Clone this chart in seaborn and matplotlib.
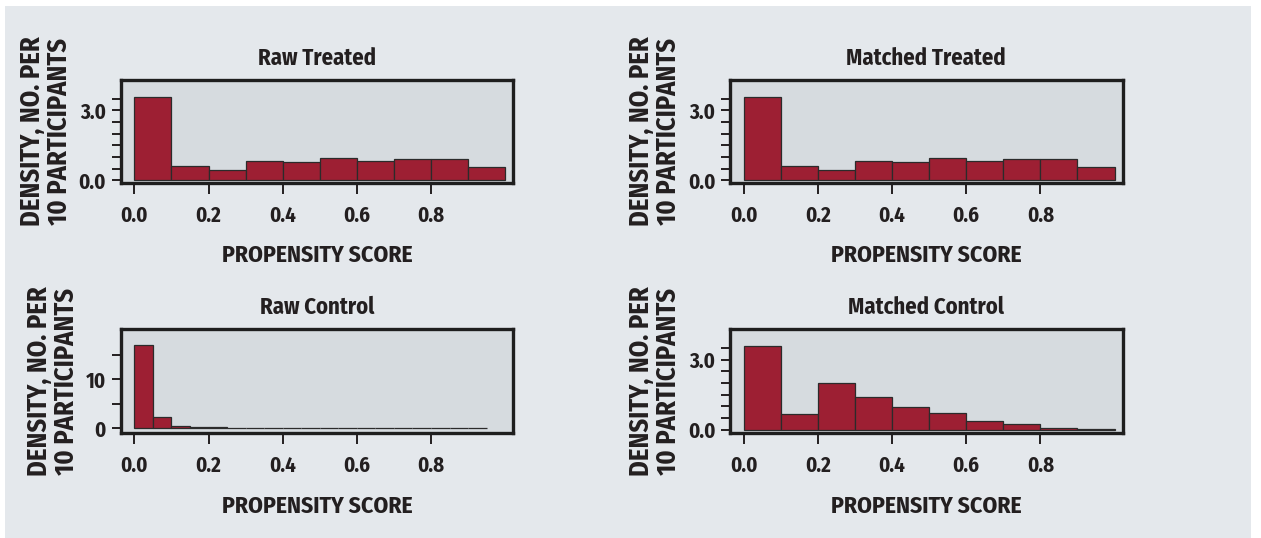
import pandas as pd
import seaborn as sns
import matplotlib.pyplot as plt
from matplotlib.patches import Rectangle

# bin edges (propensity score)
edges_wide = [round(0.1 * i, 2) for i in range(11)]
edges_narrow = [round(0.05 * i, 2) for i in range(20)]

# densities (no. per 10 participants)
raw_treated = [3.56, 0.61, 0.46, 0.84, 0.77, 0.96, 0.81, 0.90, 0.90, 0.57]
matched_treated = [3.56, 0.61, 0.46, 0.84, 0.77, 0.96, 0.81, 0.90, 0.90, 0.57]
raw_control = [17.0, 2.3, 0.47, 0.2, 0.2, 0.18, 0.05, 0.05, 0.04, 0.04,
               0.04, 0.03, 0.03, 0.03, 0.03, 0.03, 0.03, 0.03, 0.03]
matched_control = [3.59, 0.66, 1.98, 1.40, 0.98, 0.72, 0.37, 0.22, 0.07, 0.03]

x_ticks = [0.0, 0.2, 0.4, 0.6, 0.8]
x_ticklabels = ["0.0", "0.2", "0.4", "0.6", "0.8"]

BG = "#e4e8ec"
PANEL = "#d6dbdf"
BAR = "#9d1f33"
INK = "#231f20"

sns.set_theme(style="ticks")
plt.rcParams["font.family"] = ["Fira Sans Condensed", "DejaVu Sans"]
plt.rcParams["text.color"] = INK
plt.rcParams["axes.labelcolor"] = INK
plt.rcParams["xtick.color"] = INK
plt.rcParams["ytick.color"] = INK


def draw_panel(ax, title, values, edges, ylim, major, major_labels, minor):
    centers = [(a + b) / 2 for a, b in zip(edges[:-1], edges[1:])]
    df = pd.DataFrame({"score": centers, "density": values})
    sns.histplot(data=df, x="score", weights="density", bins=edges, ax=ax,
                 color=BAR, alpha=1, edgecolor="#2b2b2b", linewidth=0.9)
    ax.set_facecolor(PANEL)
    ax.set_xlim(-0.037, 1.022)
    ax.set_ylim(*ylim)
    ax.set_xticks(x_ticks)
    ax.set_xticklabels(x_ticklabels)
    ax.set_yticks(major)
    ax.set_yticklabels(major_labels)
    ax.set_yticks(minor, minor=True)
    ax.tick_params(axis="x", direction="out", length=8, width=1.4, pad=8,
                   labelsize=15)
    ax.tick_params(axis="y", which="both", direction="out", length=6.5,
                   width=1.4, pad=4, labelsize=15)
    ax.tick_params(axis="x", which="minor", bottom=False)
    for lab in ax.get_xticklabels() + ax.get_yticklabels():
        lab.set_fontweight("bold")
    for sp in ax.spines.values():
        sp.set_visible(True)
        sp.set_linewidth(2.4)
        sp.set_color("#1e1e1e")
    ax.set_title(title, fontsize=16.3, fontweight="bold", pad=11)
    ax.set_xlabel("PROPENSITY SCORE", fontsize=17, fontweight="bold",
                  labelpad=13)
    ax.set_ylabel("DENSITY, NO. PER\n10 PARTICIPANTS", fontsize=19,
                  fontweight="bold", labelpad=4.5, linespacing=1.02)


fig = plt.figure(figsize=(12.61, 5.38), dpi=100)
fig.patch.set_facecolor("white")
fig.patches.append(Rectangle((5 / 1261, 0), 1246 / 1261, 1 - 6 / 538,
                             transform=fig.transFigure, facecolor=BG,
                             edgecolor="none", zorder=-10))

W, H = 1261, 538


def box(x0, x1, y0, y1):
    return [x0 / W, 1 - y1 / H, (x1 - x0) / W, (y1 - y0) / H]


ax1 = fig.add_axes(box(120.7, 513.3, 80, 182.7))
ax2 = fig.add_axes(box(730, 1122.7, 80, 182.7))
ax3 = fig.add_axes(box(120.7, 513.3, 329.3, 433.3))
ax4 = fig.add_axes(box(730, 1122.7, 329.3, 433))

dens_major = [0, 3]
dens_labels = ["0.0", "3.0"]
dens_minor = [0.5, 1.0, 1.5, 2.0, 2.5, 3.5]

draw_panel(ax1, "Raw Treated", raw_treated, edges_wide, (-0.1, 4.3),
           dens_major, dens_labels, dens_minor)
draw_panel(ax2, "Matched Treated", matched_treated, edges_wide, (-0.1, 4.3),
           dens_major, dens_labels, dens_minor)
draw_panel(ax3, "Raw Control", raw_control, edges_narrow, (-1.0, 20.2),
           [0, 10], ["0", "10"], [5, 15])
draw_panel(ax4, "Matched Control", matched_control, edges_wide, (-0.15, 4.3),
           dens_major, dens_labels, dens_minor)

fig.savefig("out.png", dpi=100, facecolor=fig.get_facecolor())
